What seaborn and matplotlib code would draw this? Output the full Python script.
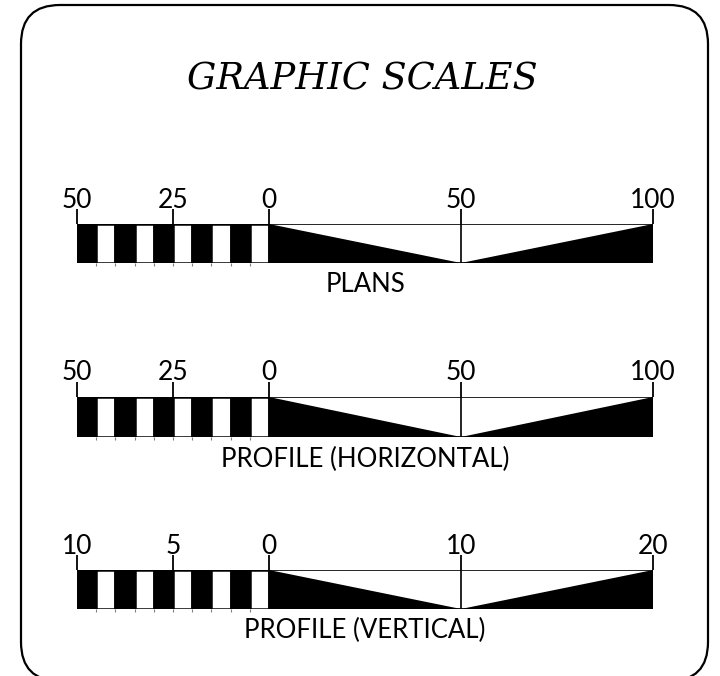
"""
plot.py - graphic scales (plans / profile) drawn with matplotlib + seaborn styling
"""
import numpy as np
import matplotlib
matplotlib.use("Agg")
import matplotlib.pyplot as plt
from matplotlib.patches import FancyBboxPatch
import seaborn as sns

# --- data ---
title = "GRAPHIC SCALES"
scale_names = ["PLANS", "PROFILE (HORIZONTAL)", "PROFILE (VERTICAL)"]
left_extent = [50, 50, 10]      # subdivided part, left of zero
right_extent = [100, 100, 20]   # main part, right of zero
n_divisions = 10
left_ticks = [[50, 25, 0], [50, 25, 0], [10, 5, 0]]
right_ticks = [[50, 100], [50, 100], [10, 20]]

# layout (pixels of the 720x676 canvas, measured from the top)
W, H = 720, 676
bar_left, bar_right = 77, 653
bar_tops = [224, 397, 570]
bar_bottoms = [263, 437, 609]

sns.set_theme(style="white")
plt.rcParams['font.family'] = ['Lato', 'DejaVu Sans']

fig = plt.figure(figsize=(W / 100, H / 100), dpi=100)

# Rahmen + Titel
bg = fig.add_axes([0, 0, 1, 1])
bg.set_xlim(0, W)
bg.set_ylim(0, H)
bg.axis('off')
frame = FancyBboxPatch((21, -5), 687, 676, boxstyle="round,pad=0,rounding_size=39",
                       fill=False, lw=1.6, ec='black', clip_on=False)
bg.add_patch(frame)
bg.text(362, H - 90, title, ha='center', va='baseline', family='DejaVu Serif',
        style='italic', fontsize=26.5, color='black')

for i, name in enumerate(scale_names):
    top, bot = bar_tops[i], bar_bottoms[i]
    ax = fig.add_axes([bar_left / W, 1 - bot / H, (bar_right - bar_left) / W, (bot - top) / H])
    L, R = left_extent[i], right_extent[i]
    ax.set_xlim(-L, R)
    ax.set_ylim(0, 1)
    ax.axis('off')

    # alternierende Unterteilung links
    step = L / n_divisions
    edges = -L + step * np.arange(n_divisions)
    colors = ['black' if k % 2 == 0 else 'white' for k in range(n_divisions)]
    ax.barh(0.5, step, left=edges, height=1, color=colors, edgecolor='black', lw=1.8)
    ax.vlines(edges[1:], -0.07, 0, color='gray', lw=0.8, clip_on=False)

    # Hauptteil rechts: Rahmen + zwei Dreiecke
    ax.barh(0.5, R, left=0, height=1, color='white', edgecolor='black', lw=1.2)
    ax.fill([0, 0, R / 2], [1, 0, 0], color='black', lw=0)
    ax.fill([R, R, R / 2], [1, 0, 0], color='black', lw=0)
    ax.vlines(R / 2, 0, 1, color='black', lw=1.2)

    # Striche + Beschriftung
    tick_pos = [-v for v in left_ticks[i]] + list(right_ticks[i])
    tick_lab = left_ticks[i] + right_ticks[i]
    ax.vlines(tick_pos, 1, 1.38, color='black', lw=1.3, clip_on=False)
    for p, v in zip(tick_pos, tick_lab):
        ax.text(p, 1.42, str(v), ha='center', va='baseline', fontsize=19,
                color='black', clip_on=False)

    ax.text((R - L) / 2, -0.74, name, ha='center', va='baseline', fontsize=18.5,
            color='black', clip_on=False)

fig.savefig("out.png", dpi=100)
